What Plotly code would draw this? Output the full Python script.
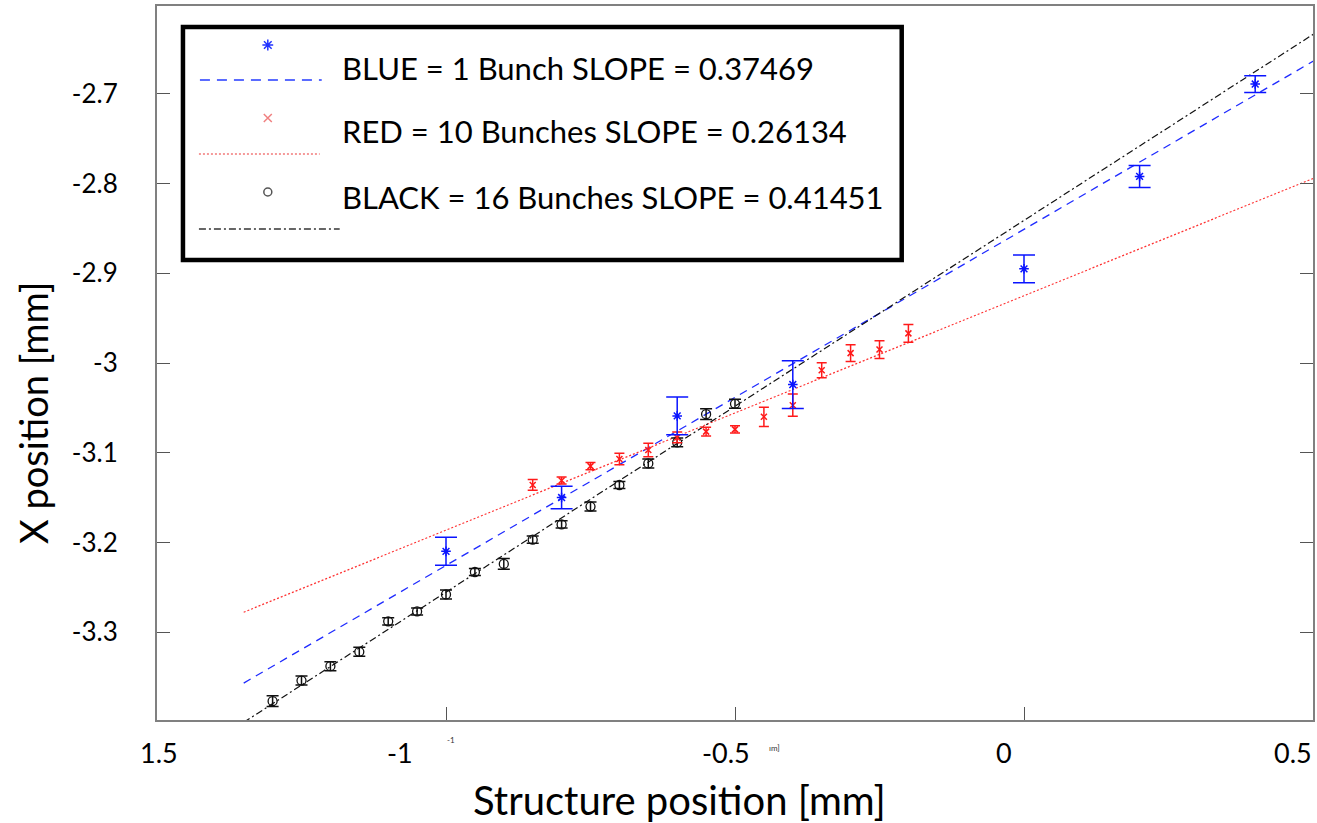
import plotly.graph_objects as go

# ---------------- data ----------------
blue_x = [-1.0, -0.8, -0.6, -0.4, 0.0, 0.2, 0.4]
blue_y = [-3.210, -3.150, -3.059, -3.024, -2.895, -2.792, -2.689]
blue_err = [0.0156, 0.0125, 0.021, 0.0266, 0.0154, 0.0123, 0.0093]

red_x = [-0.85, -0.8, -0.75, -0.7, -0.65, -0.6, -0.55, -0.5, -0.45, -0.4, -0.35, -0.3, -0.25, -0.2]
red_y = [-3.136, -3.131, -3.115, -3.107, -3.097, -3.083, -3.0765, -3.074, -3.060, -3.047,
         -3.008, -2.989, -2.985, -2.967]
red_err = [0.006, 0.004, 0.004, 0.0065, 0.0075, 0.006, 0.005, 0.004, 0.0108, 0.0125,
           0.0084, 0.0093, 0.0099, 0.0099]

black_x = [-1.3, -1.25, -1.2, -1.15, -1.1, -1.05, -1.0, -0.95, -0.9, -0.85, -0.8, -0.75,
           -0.7, -0.65, -0.6, -0.55, -0.5]
black_y = [-3.377, -3.354, -3.338, -3.322, -3.288, -3.277, -3.258, -3.233, -3.224, -3.197,
           -3.180, -3.160, -3.136, -3.112, -3.0885, -3.057, -3.0455]
black_err = [0.006, 0.005, 0.005, 0.005, 0.004, 0.004, 0.005, 0.004, 0.006, 0.004, 0.004,
             0.005, 0.004, 0.005, 0.005, 0.006, 0.005]

fit_names = ["BLUE", "RED", "BLACK"]
fit_slopes = [0.37469, 0.26134, 0.41451]
fit_intercepts = [-2.851, -2.925, -2.841]
fit_x_range = [-1.35, 0.55]

legend_labels = ["BLUE = 1 Bunch SLOPE = 0.37469",
                 "RED = 10 Bunches SLOPE = 0.26134",
                 "BLACK = 16 Bunches SLOPE = 0.41451"]

y_tickvals = [-3.3, -3.2, -3.1, -3.0, -2.9, -2.8, -2.7]
y_ticktext = ["-3.3", "-3.2", "-3.1", "-3", "-2.9", "-2.8", "-2.7"]
x_tickvals = [-1.5, -1.0, -0.5, 0.0, 0.5]
x_ticktext = ["1.5", "-1", "-0.5", "0", "0.5"]
x_ticktext_pos = [-1.497, -1.079, -0.515, -0.034, 0.465]   # where the labels sit (shifted as in original)

FONT = "Lato"

fig = go.Figure()

# fit lines
line_styles = [dict(color="#1f2bff", width=1.3, dash="8px,6px"),
               dict(color="#ff3030", width=1.2, dash="2px,2px"),
               dict(color="#111111", width=1.2, dash="7px,3px,2px,3px")]
for s, b, st in zip(fit_slopes, fit_intercepts, line_styles):
    fig.add_trace(go.Scatter(x=fit_x_range, y=[b + s * v for v in fit_x_range],
                             mode="lines", line=st, hoverinfo="skip", showlegend=False))

# data points
fig.add_trace(go.Scatter(
    x=black_x, y=black_y, mode="markers",
    marker=dict(symbol="circle-open", size=9, color="#111111", line=dict(width=1.3)),
    error_y=dict(type="data", array=black_err, color="#111111", thickness=1.5, width=6),
    showlegend=False))
fig.add_trace(go.Scatter(
    x=red_x, y=red_y, mode="markers",
    marker=dict(symbol="x-thin-open", size=6, color="#ff1a1a", line=dict(width=1.5)),
    error_y=dict(type="data", array=red_err, color="#ff1a1a", thickness=1.5, width=5),
    showlegend=False))
fig.add_trace(go.Scatter(
    x=blue_x, y=blue_y, mode="markers",
    marker=dict(symbol="asterisk-open", size=8, color="#0a14ff", line=dict(width=1.5)),
    error_y=dict(type="data", array=blue_err, color="#0a14ff", thickness=1.5, width=11),
    showlegend=False))

# ---- custom legend drawn on a pixel-coordinate overlay axis ----
leg_marker_px = [(268, 45), (268, 118), (268, 192)]
leg_line_px = [(200, 322, 80), (199, 320, 154), (199, 340, 229)]
leg_text_py = [68, 131, 197]
leg_marker_sym = ["asterisk-open", "x-thin-open", "circle-open"]
leg_marker_col = ["#2233ff", "#f08080", "#555555"]
leg_line_col = ["#5a6bff", "#f59a9a", "#666666"]
leg_line_dash = ["10px,7px", "2px,2px", "7px,3px,2px,3px"]
leg_marker_size = [9, 8, 8]

for (mx, my), sym, col, sz in zip(leg_marker_px, leg_marker_sym, leg_marker_col, leg_marker_size):
    fig.add_trace(go.Scatter(x=[mx], y=[my], mode="markers", xaxis="x2", yaxis="y2",
                             marker=dict(symbol=sym, size=sz, color=col, line=dict(width=1.5)),
                             hoverinfo="skip", showlegend=False))

shapes = [dict(type="rect", xref="x2", yref="y2", x0=183, x1=903, y0=27, y1=260,
               line=dict(color="black", width=4.5), fillcolor="rgba(0,0,0,0)")]
for (x0, x1, yy), col, dash in zip(leg_line_px, leg_line_col, leg_line_dash):
    shapes.append(dict(type="line", xref="x2", yref="y2", x0=x0, x1=x1, y0=yy, y1=yy,
                       line=dict(color=col, width=2, dash=dash)))

annotations = []
for txt, py in zip(legend_labels, leg_text_py):
    annotations.append(dict(xref="x2", yref="y2", x=340, y=py, text=txt, showarrow=False,
                            xanchor="left", yanchor="middle",
                            font=dict(family=FONT, size=31, color="black")))

# x tick labels (shifted like the original)
for t, p in zip(x_ticktext, x_ticktext_pos):
    annotations.append(dict(xref="x", yref="paper", x=p, y=0, yshift=-32, text=t,
                            showarrow=False, xanchor="center", yanchor="middle",
                            font=dict(family=FONT, size=27, color="black")))
# stray small texts below the axis
annotations.append(dict(xref="paper", yref="paper", x=(445 - 157) / 1158, y=0, yshift=-20,
                        text="-1", showarrow=False, yanchor="middle",
                        font=dict(family=FONT, size=8, color="#333333")))
annotations.append(dict(xref="paper", yref="paper", x=(776 - 157) / 1158, y=0, yshift=-28,
                        text="ım]", showarrow=False, yanchor="middle",
                        font=dict(family=FONT, size=8, color="#333333")))
# axis titles
annotations.append(dict(xref="paper", yref="paper", x=(680 - 157) / 1158, y=0, yshift=-80,
                        text="Structure position [mm]", showarrow=False, yanchor="middle",
                        font=dict(family=FONT, size=40, color="black")))
annotations.append(dict(xref="paper", yref="paper", x=0, xshift=-124,
                        y=(720 - 413) / 714, text="X position [mm]",
                        textangle=-90, showarrow=False, xanchor="center", yanchor="middle",
                        font=dict(family=FONT, size=38, color="black")))

fig.update_layout(
    width=1317, height=823,
    margin=dict(l=157, r=2, t=6, b=103),
    paper_bgcolor="white", plot_bgcolor="white",
    font=dict(family=FONT, color="black"),
    showlegend=False,
    xaxis=dict(range=[-1.5, 0.5], tickvals=x_tickvals, showticklabels=False,
               ticks="inside", ticklen=13, tickcolor="#555555", tickwidth=1.2,
               showgrid=False, zeroline=False, showline=True, linecolor="#808080",
               linewidth=2, mirror=True),
    yaxis=dict(range=[-3.398, -2.602], tickvals=y_tickvals, ticktext=y_ticktext,
               ticks="inside", ticklen=13, tickcolor="#555555", tickwidth=1.2,
               tickfont=dict(family=FONT, size=26, color="black"),
               ticklabelstandoff=32,
               showgrid=False, zeroline=False, showline=True, linecolor="#808080",
               linewidth=2, mirror="ticks"),
    xaxis2=dict(overlaying="x", range=[157, 1315], visible=False, fixedrange=True),
    yaxis2=dict(overlaying="y", range=[720, 6], visible=False, fixedrange=True),
    shapes=shapes, annotations=annotations,
)

fig.write_html("out.html")
